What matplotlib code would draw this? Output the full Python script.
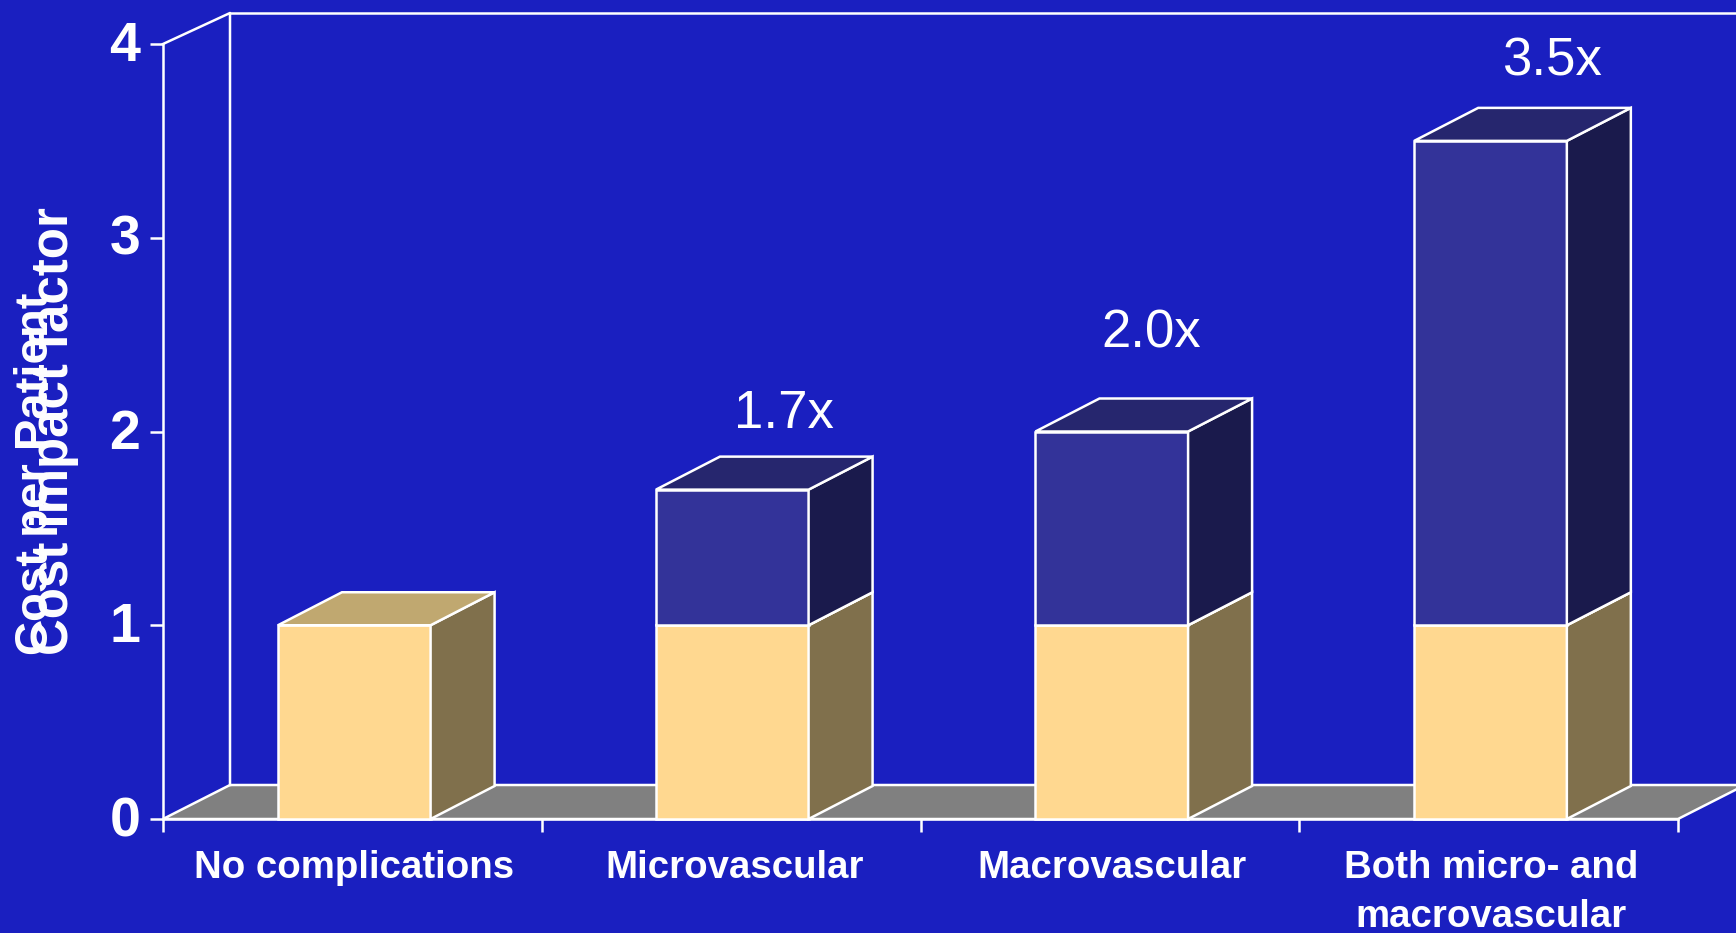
import matplotlib
matplotlib.use('Agg')
import matplotlib.pyplot as plt
from matplotlib.patches import Polygon
from matplotlib.transforms import ScaledTranslation

categories = ['No complications', 'Microvascular', 'Macrovascular', 'Both micro- and\nmacrovascular']
base_cost = [1.0, 1.0, 1.0, 1.0]
extra_cost = [0.0, 0.7, 1.0, 2.5]
factor_labels = ['', '1.7x', '2.0x', '3.5x']
y_ticks = [0, 1, 2, 3, 4]

BG = '#1a1fc0'
FLOOR = '#808080'
CREAM = ('#ffd890', '#80704c', '#c0a870')
NAVY = ('#333399', '#1a1a4c', '#26266e')

W, H = 1736, 933
PX_X = 378.75  # pixels per category
PX_Y = 193.75  # pixels per unit of cost
BOX_DX, BOX_DY = 64 / PX_X, 33 / PX_Y  # depth of the bars
WALL_DX, FLOOR_DY, WALL_DY = 67 / PX_X, 34 / PX_Y, 31 / PX_Y
BAR_W = 0.403
LW = 1.8

plt.rcParams['font.family'] = ['Liberation Sans', 'DejaVu Sans']


def box(ax, x, bottom, height, colors, z):
    '''
    Front face through ax.bar, side and top faces as polygons.
    '''
    left = x - BAR_W / 2
    right = x + BAR_W / 2
    top = bottom + height
    ax.bar(x, height, BAR_W, bottom=bottom, color=colors[0], edgecolor='white',
        linewidth=LW, zorder=z, clip_on=False)
    side = [(right, bottom), (right + BOX_DX, bottom + BOX_DY),
        (right + BOX_DX, top + BOX_DY), (right, top)]
    lid = [(left, top), (left + BOX_DX, top + BOX_DY),
        (right + BOX_DX, top + BOX_DY), (right, top)]
    ax.add_patch(Polygon(side, fc=colors[1], ec='white', lw=LW, zorder=z, clip_on=False))
    ax.add_patch(Polygon(lid, fc=colors[2], ec='white', lw=LW, zorder=z, clip_on=False))


def main():
    fig = plt.figure(figsize=(W / 100, H / 100), dpi=100, facecolor=BG)
    ax = fig.add_axes([163 / W, 1 - 819 / H, (1678 - 163) / W, (819 - 44) / H])
    ax.set_facecolor('none')
    ax.set_xlim(0, 4)
    ax.set_ylim(0, 4)
    for name in ['top', 'right']:
        ax.spines[name].set_visible(False)
    for name in ['left', 'bottom']:
        ax.spines[name].set_color('white')
        ax.spines[name].set_linewidth(LW)

    # floor and the back wall outline
    floor = [(0, 0), (4, 0), (4 + WALL_DX, FLOOR_DY), (WALL_DX, FLOOR_DY)]
    ax.add_patch(Polygon(floor, fc=FLOOR, ec='white', lw=LW, zorder=1, clip_on=False))
    ax.plot([0, WALL_DX, WALL_DX], [4, 4 + WALL_DY, FLOOR_DY], color='white', lw=LW,
        zorder=1, clip_on=False)
    ax.plot([WALL_DX, 4.2], [4 + WALL_DY, 4 + WALL_DY], color='white', lw=LW, zorder=1, clip_on=False)

    # label placement relative to the front of each bar, in pixels
    offsets = [0, 52, 39, 61]
    raises = [0, 76, 98, 79]
    centers = [0.505, 1.503, 2.505, 3.505]
    label_centers = [0.505, 1.509, 2.505, 3.507]
    for i, x in enumerate(centers):
        box(ax, x, 0, base_cost[i], CREAM, 3 + i)
        if extra_cost[i] > 0:
            total = base_cost[i] + extra_cost[i]
            box(ax, x, base_cost[i], extra_cost[i], NAVY, 3 + i)
            ax.text(x + offsets[i] / PX_X, total + raises[i] / PX_Y, factor_labels[i], color='white',
                fontsize=38, ha='center', va='center', zorder=10, clip_on=False)

    ax.set_yticks(y_ticks)
    ax.set_yticklabels([str(t) for t in y_ticks], fontsize=40, fontweight='bold', color='white')
    ax.tick_params(axis='y', length=9.4, width=LW, color='white', pad=7, direction='out')
    lift = ScaledTranslation(0, 2 / 72, fig.dpi_scale_trans)
    for lbl in ax.get_yticklabels():
        lbl.set_transform(lbl.get_transform() + lift)
    ax.set_xticks(range(5))
    ax.set_xticklabels([])
    ax.tick_params(axis='x', length=9.4, width=LW, color='white')

    for x, name in zip(label_centers, categories):
        ax.text(x, -0.16, name, color='white', fontsize=27.6, fontweight='bold', ha='center',
            va='top', linespacing=1.45, clip_on=False)

    # two axis titles sitting on top of each other
    fig.text(48.5 / W, 1 - 655 / H, 'Cost per Patient', rotation=90, color='white', fontsize=34,
        fontweight='bold', ha='left', va='baseline', rotation_mode='anchor')
    fig.text(68 / W, 1 - 655 / H, 'Cost impact factor', rotation=90, color='white', fontsize=36.7,
        fontweight='bold', ha='left', va='baseline', rotation_mode='anchor')

    fig.savefig('out.png', dpi=100, facecolor=BG)


if __name__ == '__main__':
    main()
